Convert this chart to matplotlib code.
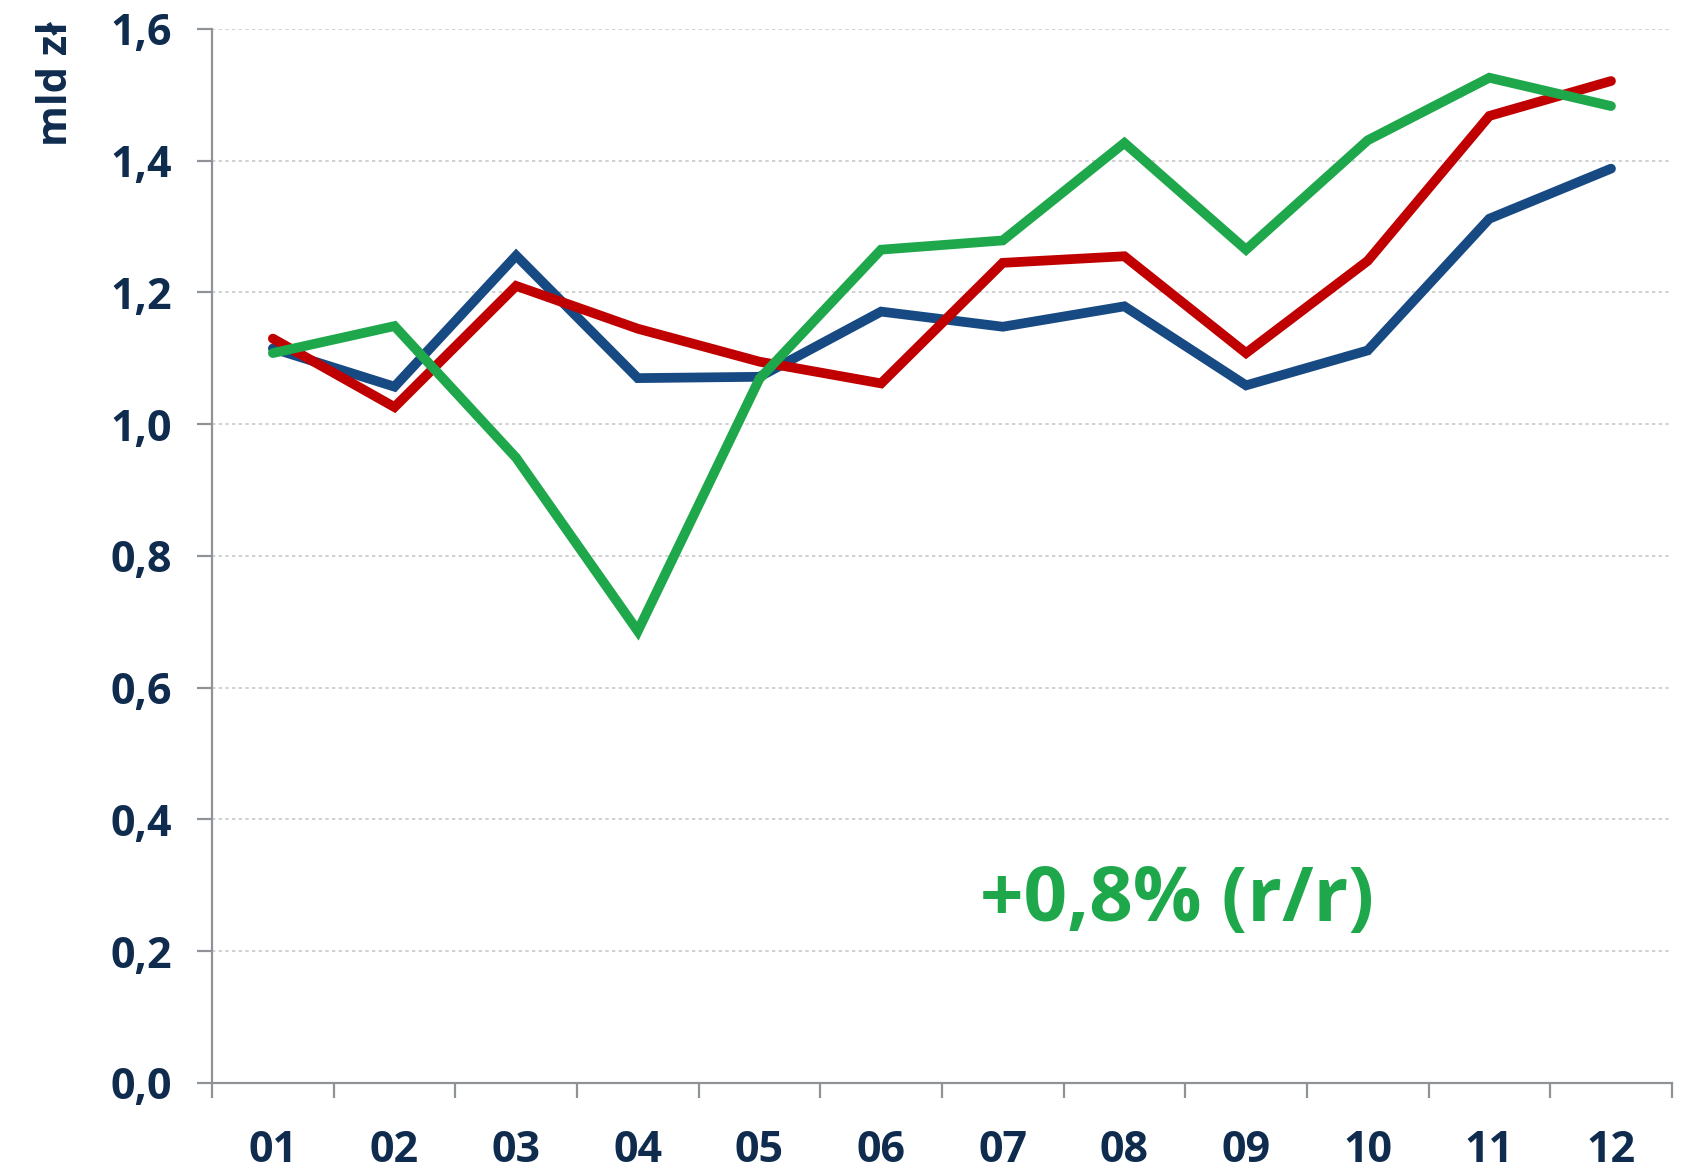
"""
Monthly values (mld zł) for three years, line chart with y/y annotation.
"""

import numpy as np
import matplotlib.pyplot as plt

# --- Data ---
months = ["01", "02", "03", "04", "05", "06", "07", "08", "09", "10", "11", "12"]
blue_vals = [1.115, 1.057, 1.256, 1.070, 1.072, 1.171, 1.148, 1.179, 1.059, 1.112, 1.312, 1.388]
red_vals = [1.130, 1.026, 1.210, 1.145, 1.095, 1.062, 1.245, 1.255, 1.108, 1.248, 1.468, 1.521]
green_vals = [1.108, 1.149, 0.949, 0.686, 1.069, 1.265, 1.279, 1.427, 1.265, 1.431, 1.526, 1.483]
y_ticks = [0.0, 0.2, 0.4, 0.6, 0.8, 1.0, 1.2, 1.4, 1.6]
note_text = "+0,8% (r/r)"

text_color = "#0f2c4e"
axis_color = "#8f9297"

plt.rcParams["font.family"] = ["Open Sans", "DejaVu Sans"]
plt.rcParams["font.weight"] = "bold"

fig = plt.figure(figsize=(16.99, 11.69), dpi=100)
ax = fig.add_axes([0.1248, 0.0736, 0.8592, 0.9016])

x = np.arange(len(months))
for vals, col in [(blue_vals, "#174a82"), (red_vals, "#c00000"), (green_vals, "#1fa84b")]:
    ax.plot(x, vals, color=col, linewidth=7, solid_capstyle="round",
            solid_joinstyle="miter", zorder=3)

ax.set_xlim(-0.5, len(months) - 0.5)
ax.set_ylim(0, 1.6)

# y axis
ax.set_yticks(y_ticks)
ax.set_yticklabels([f"{v:.1f}".replace(".", ",") for v in y_ticks])
ax.yaxis.grid(True, linestyle=(0, (2, 2)), color="#c8c8c8", linewidth=1.2, zorder=0)

# x axis: ticks between categories, labels centered
ax.set_xticks(np.arange(-0.5, len(months) + 0.5, 1.0))
ax.set_xticklabels([])
ax.set_xticks(x, minor=True)
ax.set_xticklabels(months, minor=True)
ax.tick_params(axis="x", which="minor", length=0, pad=33)
ax.tick_params(axis="x", which="major", length=11, width=1.6, color=axis_color)
ax.tick_params(axis="y", length=11, width=1.6, color=axis_color, pad=18)
ax.tick_params(axis="both", which="both", labelsize=31, labelcolor=text_color)

for s in ["top", "right"]:
    ax.spines[s].set_visible(False)
for s in ["left", "bottom"]:
    ax.spines[s].set_color(axis_color)
    ax.spines[s].set_linewidth(1.6)
ax.set_axisbelow(True)

fig.text(0.033, 0.982, "mld zł", rotation=90, ha="center", va="top",
         fontsize=30, fontweight="bold", color=text_color)

ax.text(7.43, 0.275, note_text, ha="center", va="center", fontsize=55,
        fontweight="bold", color="#1fa84b")

fig.savefig("out.png", dpi=100)
plt.close(fig)
